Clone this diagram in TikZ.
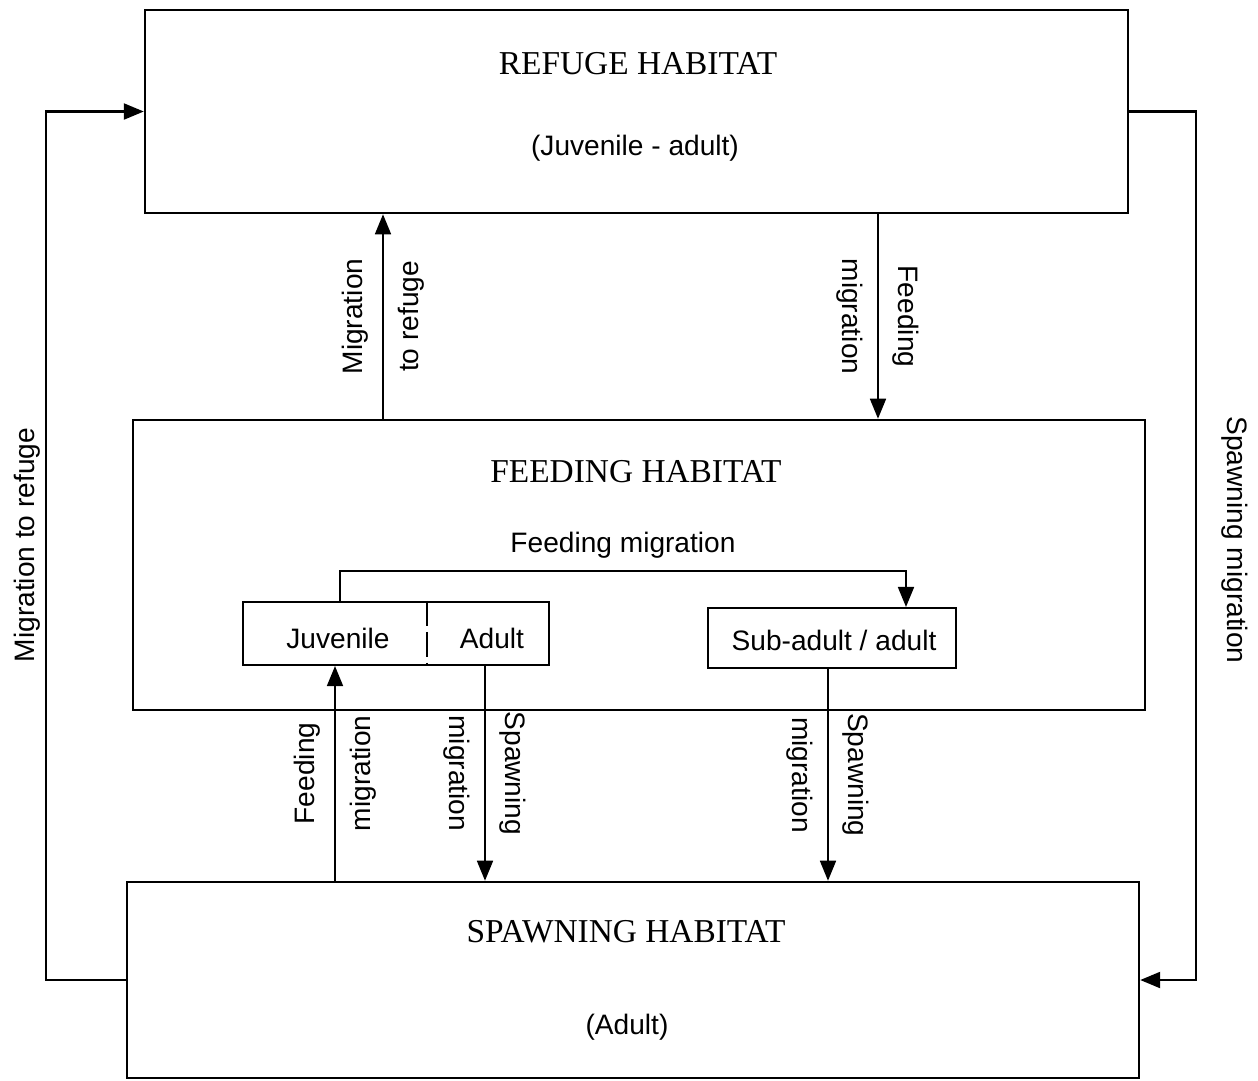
\documentclass[tikz,border=0pt]{standalone}
\usepackage{fontspec}
\setmainfont{Liberation Serif}
\setsansfont{Liberation Sans}
\usetikzlibrary{arrows.meta}
\tikzset{%
  >={Triangle[width=3.2mm,length=4mm]},
  % Specifications for style of nodes:
         habitat/.style = {rectangle, draw=black, line width=1.5pt, inner sep=0pt},
           stage/.style = {rectangle, draw=black, line width=1.2pt, inner sep=0pt},
           title/.style = {font=\rmfamily\fontsize{19}{21}\selectfont},
             txt/.style = {font=\sffamily\fontsize{16}{19}\selectfont},
         twoline/.style = {align=center, font=\sffamily\fontsize{16}{32}\selectfont},
            flow/.style = {->, line width=1pt},
            loop/.style = {->, line width=1.3pt},
}

\begin{document}
\begin{tikzpicture}[x=0.02cm, y=-0.02cm]
  \useasboundingbox (0,0) rectangle (1258,1080);
  % Specification of nodes (position, etc.)

  \node (refuge)    [habitat, minimum width=19.66cm, minimum height=4.06cm] at (636.5,111.5) {};
  \node (feeding)   [habitat, minimum width=20.24cm, minimum height=5.8cm]  at (639,565) {};
  \node (spawning)  [habitat, minimum width=20.24cm, minimum height=3.92cm] at (633,980) {};
  \node (jabox)     [stage, minimum width=6.12cm, minimum height=1.26cm]    at (396,633.5) {};
  \node (subbox)    [stage, minimum width=4.96cm, minimum height=1.2cm]     at (832,638) {};

  \node (reftitle)  [title] at (638,64)  {REFUGE HABITAT};
  \node (refsub)    [txt]   at (635,148) {(Juvenile - adult)};
  \node (feedtitle) [title] at (636,472) {FEEDING HABITAT};
  \node (feedmig)   [txt]   at (623,545) {Feeding migration};
  \node (juv)       [txt]   at (338,638) {Juvenile};
  \node (adult)     [txt]   at (492,638) {Adult};
  \node (subadult)  [txt]   at (834,640) {Sub-adult / adult};
  \node (spawntitle)[title] at (626,932) {SPAWNING HABITAT};
  \node (spawnsub)  [txt]   at (627,1027) {(Adult)};

  \draw[line width=1pt, dash pattern=on 0.5cm off 0.12cm] (jabox.north -| 427,0) -- (jabox.south -| 427,0);

  % Connectors between habitats
  \draw[flow] (feeding.north -| 383,0) -- node[twoline, rotate=90] (tref) {Migration\\to refuge} (refuge.south -| 383,0);
  \draw[flow] (refuge.south -| 878,0) -- node[twoline, rotate=-90] (tfeed) {Feeding\\migration} (feeding.north -| 878,0);
  \draw[flow] (jabox.north -| 340,0) -- ++(0,-30) -| (subbox.north -| 906,0);
  \draw[flow] (spawning.north -| 335,0) -- node[twoline, rotate=90] (tfeed2) {Feeding\\migration} (jabox.south -| 335,0);
  \draw[flow] (jabox.south -| 485,0) -- node[twoline, rotate=-90] (tspawn) {Spawning\\migration} (spawning.north -| 485,0);
  \draw[flow] (subbox.south -| 828,0) -- node[twoline, rotate=-90] (tspawn2) {Spawning\\migration} (spawning.north -| 828,0);

  % Outer loops
  \draw[loop] (spawning.west) -- ++(-80,0) |- (refuge.west);
  \draw[loop] (refuge.east) -- ++(67,0) |- (spawning.east);
  \node (tleft)  [txt, rotate=90]  at (27,545)   {Migration to refuge};
  \node (tright) [txt, rotate=-90] at (1235,540) {Spawning migration};

\end{tikzpicture}
\end{document}
